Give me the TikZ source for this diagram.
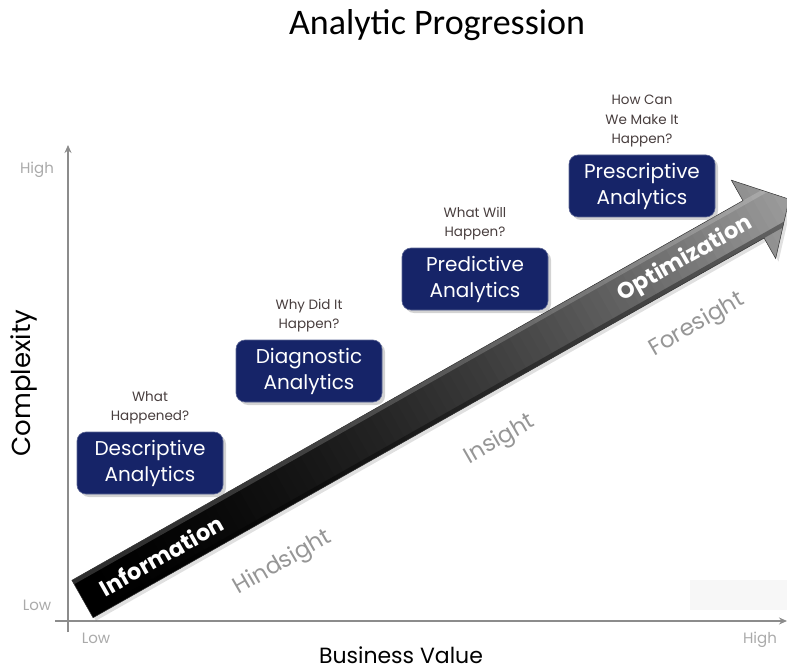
\documentclass[tikz,border=0pt]{standalone}
\usepackage{fontspec}
\setmainfont{Poppins}
\newfontfamily\titlefont{Carlito}
\usetikzlibrary{shadows,arrows.meta}
\definecolor{navy}{RGB}{22,36,104}
\definecolor{qgray}{RGB}{72,62,62}
\definecolor{lblgray}{RGB}{150,150,150}
\definecolor{ticklbl}{RGB}{170,170,170}
\definecolor{axisgray}{RGB}{140,140,140}
\begin{document}
\begin{tikzpicture}[x=1pt,y=-1pt,
  stage/.style={fill=navy, draw=navy!70!white, line width=0.6pt, rounded corners=9pt,
    minimum width=146pt, minimum height=62pt, text=white, align=center,
    font=\fontsize{20}{26}\selectfont,
    drop shadow={opacity=0.35, shadow xshift=3pt, shadow yshift=-3pt}},
  question/.style={align=center, text=qgray, font=\fontsize{13.5}{19.5}\selectfont},
  ticklabel/.style={text=ticklbl, font=\fontsize{15}{17}\selectfont},
  phase/.style={text=lblgray, font=\fontsize{23}{26}\selectfont, rotate=30},
  arrowtext/.style={text=white, font=\bfseries\fontsize{22.5}{26}\selectfont, transform shape},
  axisline/.style={draw=axisgray, line width=1.6pt, -{Stealth[length=8pt,width=7pt]}}
]
\useasboundingbox (0,0) rectangle (787,671);

% title
\node[font=\titlefont\fontsize{36}{40}\selectfont] (title) at (437,25) {Analytic Progression};

% faint panel near the lower right corner
\fill[gray!6] (690,580) rectangle (787,610);

% axes
\coordinate (ytop) at (68,145);
\coordinate (ybot) at (68,632);
\coordinate (xleft) at (55,621);
\coordinate (xright) at (787,621);
\draw[axisline] (ybot) -- (ytop);
\draw[axisline, line width=2.6pt] (xleft) -- (xright);

\node[ticklabel] (yhigh) at (37,170) {High};
\node[ticklabel] (ylow) at (37,605) {Low};
\node[ticklabel] (xlow) at (96,638) {Low};
\node[ticklabel] (xhigh) at (760,640) {High};

\node[font=\fontsize{26}{30}\selectfont, rotate=90] (ylabel) at (24,383) {Complexity};
\node[font=\fontsize{22}{26}\selectfont] (xlabel) at (401,655) {Business Value};

% the big progression arrow, drawn along its own axis
\begin{scope}[shift={(82.5,599)}, rotate=29.5]
  % soft shadow
  \fill[black, opacity=0.12] [xshift=1pt, yshift=-4pt] (0,-21.5) -- (771,-21.5) -- (771,-45) -- (812,0) -- (771,45) -- (771,21.5) -- (0,21.5) -- cycle;
  \begin{scope}
    \clip (0,-21.5) -- (771,-21.5) -- (771,-45) -- (812,0) -- (771,45) -- (771,21.5) -- (0,21.5) -- cycle;
    \foreach \i in {0,...,81} {
      \pgfmathsetmacro\g{100-62*(\i/81)^1.7}
      \fill[black!\g!white] (\i*10,-46) rectangle (\i*10+10.8,46);
    }
    % bevel highlights
    \fill[white, opacity=0.18] (0,-21.5) rectangle (812,-17);
    \fill[black, opacity=0.35] (0,17) rectangle (812,21.5);
  \end{scope}
  \draw[black!80, line width=0.5pt] (0,-21.5) -- (771,-21.5) -- (771,-45) -- (812,0) -- (771,45) -- (771,21.5) -- (0,21.5) -- cycle;
  \node[arrowtext] (info) at (90,1) {Information};
  \node[arrowtext] (optim) at (692,1) {Optimization};
\end{scope}

% phases below the arrow
\node[phase] (hind) at (283,563) {Hindsight};
\node[phase] (ins) at (500,440) {Insight};
\node[phase] (fore) at (697,325) {Foresight};

% analytics stages
\node[stage] (desc) at (150,463) {Descriptive\\Analytics};
\node[stage] (diag) at (309,371) {Diagnostic\\Analytics};
\node[stage] (pred) at (475,279) {Predictive\\Analytics};
\node[stage] (presc) at (642,186) {Prescriptive\\Analytics};

% questions above each stage
\node[question, anchor=south] (q1) at ([yshift=4pt]desc.north) {What\\Happened?};
\node[question, anchor=south] (q2) at ([yshift=4pt]diag.north) {Why Did It\\Happen?};
\node[question, anchor=south] (q3) at ([yshift=4pt]pred.north) {What Will\\Happen?};
\node[question, anchor=south] (q4) at ([yshift=4pt]presc.north) {How Can\\We Make It\\Happen?};
\end{tikzpicture}
\end{document}
